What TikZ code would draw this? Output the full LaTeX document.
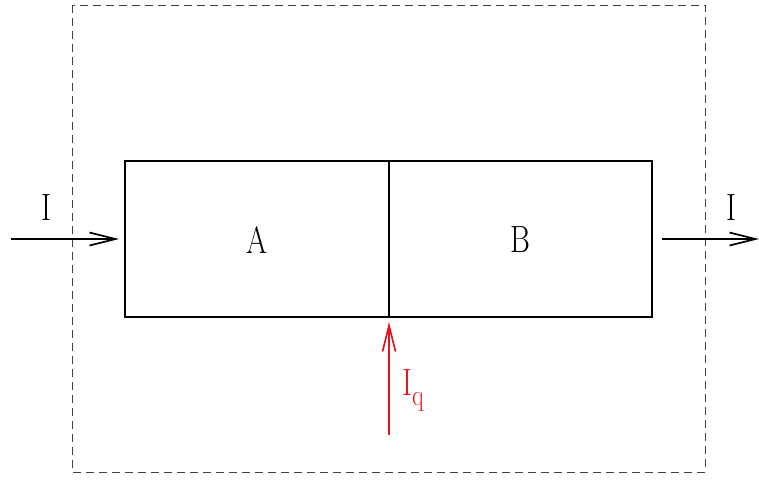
\documentclass[tikz,border=0pt]{standalone}
\usetikzlibrary{arrows.meta}
\definecolor{cred}{RGB}{230,20,30}
\newcommand{\nar}[1]{\scalebox{0.8}[1]{#1}}
\begin{document}
\begin{tikzpicture}[x=1pt,y=-1pt,
  boxline/.style={line width=1.9pt},
  flow/.style={line width=1.9pt,-{Straight Barb[length=26pt,width=13pt,line width=1.7pt]}},
  lbl/.style={inner sep=0pt,font=\fontsize{38}{42}\selectfont},
  dashbox/.style={draw=black!75,line width=1pt,dash pattern=on 8pt off 5pt}]
\useasboundingbox (0,0) rectangle (759,479);
\draw[dashbox] (72,5) rectangle (705,472);
\node[draw,boxline,minimum width=264pt,minimum height=156pt,anchor=north west,inner sep=0pt,outer sep=0pt] (A) at (125,161) {};
\node[draw,boxline,minimum width=263pt,minimum height=156pt,anchor=north west,inner sep=0pt,outer sep=0pt] (B) at (389,161) {};
\node[lbl] (la) at (257,240) {\nar{A}};
\node[lbl] (lb) at (520,240) {\nar{B}};
\coordinate (inl) at (11,239);
\coordinate (outr) at (759,239);
\draw[flow] (inl) -- ([xshift=-6pt]inl -| A.west);
\draw[flow] ([xshift=10pt]outr -| B.east) -- (outr);
\node[lbl] (i1) at (46,208) {\nar{I}};
\node[lbl] (i2) at (731,208) {\nar{I}};
\coordinate (qs) at (389,435);
\draw[flow,draw=cred] (qs) -- ([yshift=-5pt]qs |- A.south);
\node[lbl,text=cred,anchor=west] (iq) at (402,390) {\nar{I}\raisebox{-10pt}{\fontsize{30}{34}\selectfont\nar{q}}};
\end{tikzpicture}
\end{document}
